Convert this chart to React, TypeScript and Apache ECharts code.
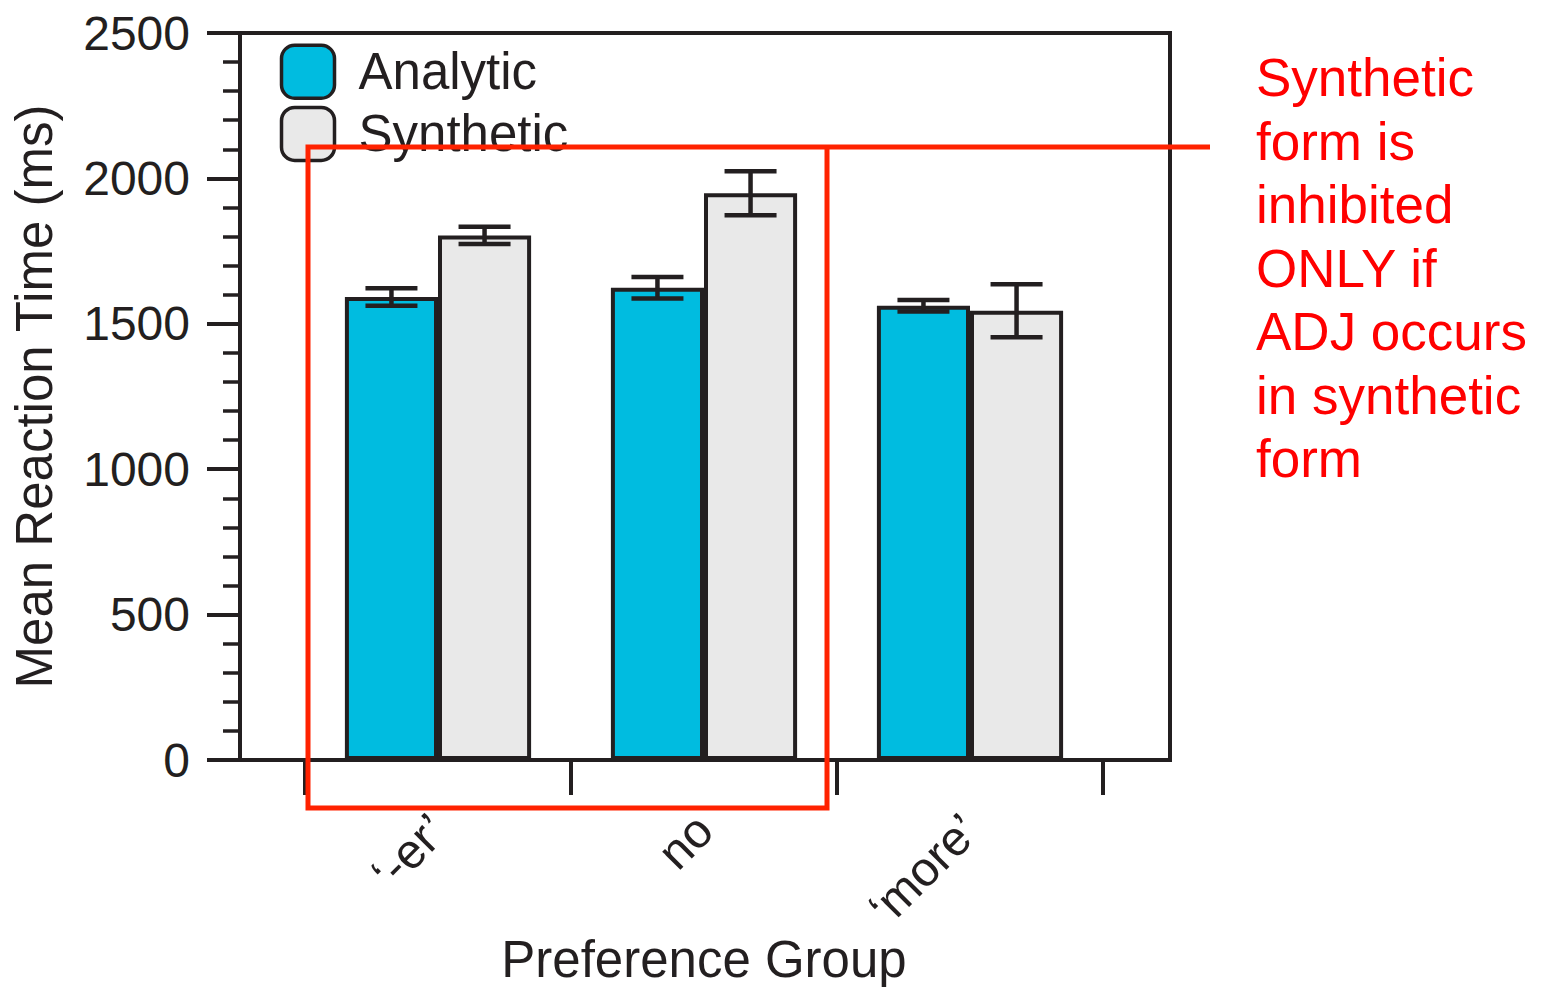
import React, { useEffect, useRef } from "react";
import * as echarts from "echarts";

// Mean reaction times (ms) with error half-widths, per preference group
const categories = ["‘-er’", "no", "‘more’"];
const analyticMeans = [1592, 1624, 1562];
const analyticErrors = [30, 37, 20];
const syntheticMeans = [1804, 1949, 1545];
const syntheticErrors = [30, 76, 91];
const yTicks = { min: 0, max: 2500, interval: 500 };
const noteLines = [
  "Synthetic",
  "form is",
  "inhibited",
  "ONLY if",
  "ADJ occurs",
  "in synthetic",
  "form",
];

const INK = "#231f20";
const RED = "#ff2200";
const FONT = "'Liberation Sans', Arial, Helvetica, sans-serif";
const CATEGORY_GAP = 0.3;

function errorBars(name: string, means: number[], errors: number[], side: number) {
  return {
    type: "custom",
    name,
    xAxisIndex: 1,
    yAxisIndex: 1,
    z: 5,
    data: means.map((m, i) => [i, m - errors[i], m + errors[i]]),
    encode: { x: 0, y: [1, 2] },
    renderItem: (_params: any, api: any) => {
      const i = api.value(0);
      const band = api.size([1, 0])[0];
      const offset = (side * band * (1 - CATEGORY_GAP)) / 4;
      const lo = api.coord([i, api.value(1)]);
      const hi = api.coord([i, api.value(2)]);
      const x = lo[0] + offset;
      const half = 26;
      const style = { stroke: INK, lineWidth: 4.5, fill: null };
      return {
        type: "group",
        children: [
          { type: "line", shape: { x1: x, y1: lo[1], x2: x, y2: hi[1] }, style },
          { type: "line", shape: { x1: x - half, y1: lo[1], x2: x + half, y2: lo[1] }, style },
          { type: "line", shape: { x1: x - half, y1: hi[1], x2: x + half, y2: hi[1] }, style },
        ],
      };
    },
  };
}

export default function App() {
  const ref = useRef<HTMLDivElement>(null);

  useEffect(() => {
    if (!ref.current) return;
    const chart = echarts.init(ref.current, undefined, { renderer: "svg" });
    chart.setOption({
      animation: false,
      backgroundColor: "#ffffff",
      textStyle: { fontFamily: FONT, color: INK },
      grid: [
        {
          left: 240,
          top: 33,
          width: 930,
          height: 727,
          outerBoundsMode: "none",
          containLabel: false,
          show: true,
          borderColor: INK,
          borderWidth: 4,
          backgroundColor: "transparent",
        },
        {
          left: 305,
          top: 33,
          width: 798,
          height: 727,
          outerBoundsMode: "none",
          containLabel: false,
        },
      ],
      legend: {
        data: ["Analytic", "Synthetic"],
        orient: "vertical",
        left: 279.75,
        top: 43.5,
        padding: 0,
        itemWidth: 53,
        itemHeight: 53,
        itemGap: 5.7,
        icon: "roundRect",
        selectedMode: false,
        itemStyle: { borderColor: INK, borderWidth: 3.5 },
        textStyle: {
          fontFamily: FONT,
          fontSize: 51,
          lineHeight: 53,
          color: INK,
          padding: [0, 0, 0, 19],
        },
      },
      xAxis: [
        { gridIndex: 0, type: "value", min: 0, max: 1, show: false },
        {
          gridIndex: 1,
          type: "category",
          data: categories,
          axisLine: { show: false },
          axisTick: { show: true, length: 35, lineStyle: { color: INK, width: 4 } },
          axisLabel: {
            rotate: 45,
            fontSize: 48.5,
            margin: 62,
            color: INK,
            fontFamily: FONT,
          },
          name: "Preference Group",
          nameLocation: "middle",
          nameMoveOverlap: false,
          nameGap: 176,
          nameTextStyle: { fontSize: 51, lineHeight: 46, color: INK, fontFamily: FONT },
        },
      ],
      yAxis: [
        {
          gridIndex: 0,
          type: "value",
          min: yTicks.min,
          max: yTicks.max,
          interval: yTicks.interval,
          axisLine: { show: true, lineStyle: { color: INK, width: 4 } },
          axisTick: { show: true, length: 33, lineStyle: { color: INK, width: 4 } },
          minorTick: {
            show: true,
            splitNumber: 5,
            length: 17,
            lineStyle: { color: INK, width: 3.5 },
          },
          splitLine: { show: false },
          axisLabel: {
            fontSize: 48,
            margin: 50,
            color: INK,
            fontFamily: FONT,
            formatter: (v: number) => String(v),
          },
          name: "Mean Reaction Time (ms)",
          nameLocation: "middle",
          nameMoveOverlap: false,
          nameGap: 180,
          nameTextStyle: { fontSize: 51, color: INK, fontFamily: FONT },
        },
        {
          gridIndex: 1,
          type: "value",
          min: yTicks.min,
          max: yTicks.max,
          show: false,
        },
      ],
      series: [
        {
          type: "bar",
          name: "Analytic",
          xAxisIndex: 1,
          yAxisIndex: 1,
          data: analyticMeans,
          barGap: "0%",
          barCategoryGap: "30%",
          itemStyle: { color: "#00bce0", borderColor: INK, borderWidth: 4 },
        },
        {
          type: "bar",
          name: "Synthetic",
          xAxisIndex: 1,
          yAxisIndex: 1,
          data: syntheticMeans,
          barGap: "0%",
          barCategoryGap: "30%",
          itemStyle: { color: "#e9e9e9", borderColor: INK, borderWidth: 4 },
        },
        errorBars("Analytic error", analyticMeans, analyticErrors, -1),
        errorBars("Synthetic error", syntheticMeans, syntheticErrors, 1),
      ],
      graphic: [
        {
          type: "polyline",
          z: 100,
          shape: {
            points: [
              [1210, 147],
              [308, 147],
              [308, 808],
              [827, 808],
              [827, 147],
            ],
          },
          style: { stroke: RED, lineWidth: 5, fill: null },
        },
        {
          type: "text",
          z: 100,
          x: 1256,
          y: 46,
          style: {
            text: noteLines.join("\n"),
            fill: "#ff0000",
            font: `53px ${FONT}`,
            lineHeight: 63.5,
          },
        },
      ],
    });
    return () => chart.dispose();
  }, []);

  return (
    <div
      ref={ref}
      style={{ position: "fixed", left: 0, top: 0, width: 1547, height: 987 }}
    />
  );
}
